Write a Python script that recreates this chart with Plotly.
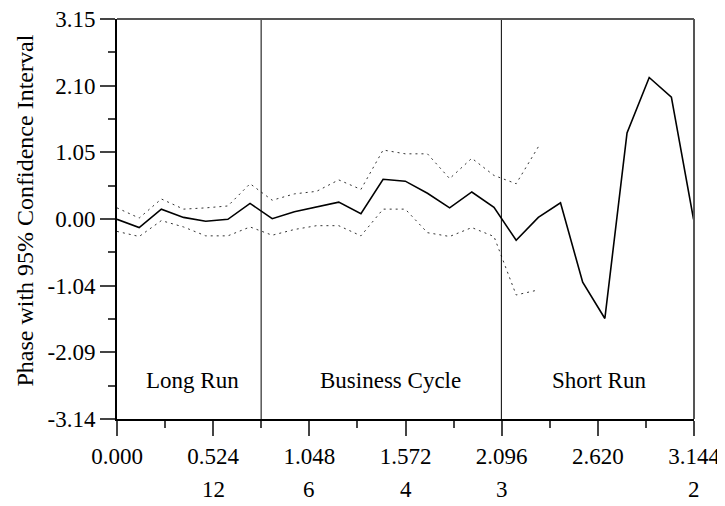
import math
import plotly.graph_objects as go

# ---- data ----
n_points = 27
freq = [j * math.pi / 26 for j in range(n_points)]
phase = [0.00, -0.13, 0.16, 0.03, -0.03, 0.00, 0.25, 0.01, 0.12, 0.19,
         0.27, 0.09, 0.63, 0.60, 0.41, 0.18, 0.43, 0.19, -0.33, 0.03,
         0.26, -0.99, -1.56, 1.36, 2.23, 1.92, 0.00]
upper = [0.18, 0.02, 0.32, 0.16, 0.18, 0.21, 0.56, 0.30, 0.40, 0.44,
         0.62, 0.47, 1.09, 1.03, 1.03, 0.64, 0.96, 0.69, 0.56, 1.14]
lower = [-0.19, -0.27, -0.02, -0.12, -0.26, -0.26, -0.12, -0.25, -0.16, -0.10,
         -0.10, -0.26, 0.16, 0.16, -0.21, -0.27, -0.13, -0.27, -1.19, -1.11]

x_ticks = [0.0, 0.524, 1.048, 1.572, 2.096, 2.620, 3.144]
x_ticktext = ["0.000", "0.524", "1.048", "1.572", "2.096", "2.620", "3.144"]
period_pos = [0.524, 1.048, 1.572, 2.096, 3.144]
period_text = ["12", "6", "4", "3", "2"]
y_lo, y_hi = -3.14, 3.15
y_ticks = [y_lo + i * (y_hi - y_lo) / 6 for i in range(7)]
y_ticktext = ["-3.14", "-2.09", "-1.04", "0.00", "1.05", "2.10", "3.15"]
band_edges = [math.pi / 4, 2 * math.pi / 3]
regions = [("Long Run", 0.411), ("Business Cycle", 1.488), ("Short Run", 2.627)]

FONT = "Liberation Serif"
fig = go.Figure()

fig.add_trace(go.Scatter(x=freq[:len(upper)], y=upper, mode="lines",
                         line=dict(color="#333", width=1, dash="2px,4px"),
                         showlegend=False, hoverinfo="skip"))
fig.add_trace(go.Scatter(x=freq[:len(lower)], y=lower, mode="lines",
                         line=dict(color="#333", width=1, dash="2px,4px"),
                         showlegend=False, hoverinfo="skip"))
fig.add_trace(go.Scatter(x=freq, y=phase, mode="lines",
                         line=dict(color="black", width=1.6),
                         showlegend=False))

for xe in band_edges:
    fig.add_shape(type="line", xref="x", yref="paper", x0=xe, x1=xe, y0=0, y1=1,
                  line=dict(color="black", width=1))

# top and right frame
fig.add_shape(type="line", xref="paper", yref="paper", x0=0, x1=1, y0=1, y1=1,
              line=dict(color="#555", width=2))
fig.add_shape(type="line", xref="paper", yref="paper", x0=1, x1=1, y0=0, y1=1,
              line=dict(color="#555", width=2))

for txt, xv in regions:
    fig.add_annotation(x=xv, y=-2.54, xref="x", yref="y", text=txt, showarrow=False,
                       font=dict(family=FONT, size=23, color="black"))

for xv, txt in zip(period_pos, period_text):
    fig.add_annotation(x=xv, y=0, xref="x", yref="paper", text=txt, showarrow=False,
                       yanchor="middle", yshift=-70,
                       font=dict(family=FONT, size=23, color="black"))

fig.add_annotation(x=0, y=0.521, xref="paper", yref="paper", xshift=-92,
                   xanchor="center", yanchor="middle",
                   text="Phase with 95% Confidence Interval", textangle=-90,
                   showarrow=False, font=dict(family=FONT, size=24, color="black"))

fig.update_xaxes(range=[0, 3.144], tickvals=x_ticks, ticktext=x_ticktext,
                 ticks="outside", ticklen=15, tickwidth=2, tickcolor="#444",
                 showline=True, linecolor="black", linewidth=2,
                 showgrid=False, zeroline=False, automargin=False,
                 ticklabeloverflow="allow",
                 minor=dict(tickvals=[0.262 + 0.524 * i for i in range(6)],
                            ticks="outside", ticklen=7, tickwidth=2, tickcolor="#444"),
                 tickfont=dict(family=FONT, size=23, color="black"))
fig.update_yaxes(range=[y_lo, y_hi], tickvals=y_ticks, ticktext=y_ticktext,
                 ticks="outside", ticklen=15, tickwidth=2, tickcolor="#444",
                 showline=True, linecolor="black", linewidth=2,
                 showgrid=False, zeroline=False, automargin=False,
                 ticklabeloverflow="allow",
                 minor=dict(tickvals=[y_ticks[i] + (y_hi - y_lo) / 12 for i in range(6)],
                            ticks="outside", ticklen=7, tickwidth=2, tickcolor="#444"),
                 tickfont=dict(family=FONT, size=23, color="black"))

# page body adds an 8px offset, so the figure is sized to fit the window
fig.update_layout(width=717, height=498, plot_bgcolor="white", paper_bgcolor="white",
                  margin=dict(l=109, r=31, t=11, b=87),
                  font=dict(family=FONT, size=23, color="black"))

fig.write_html("out.html")
